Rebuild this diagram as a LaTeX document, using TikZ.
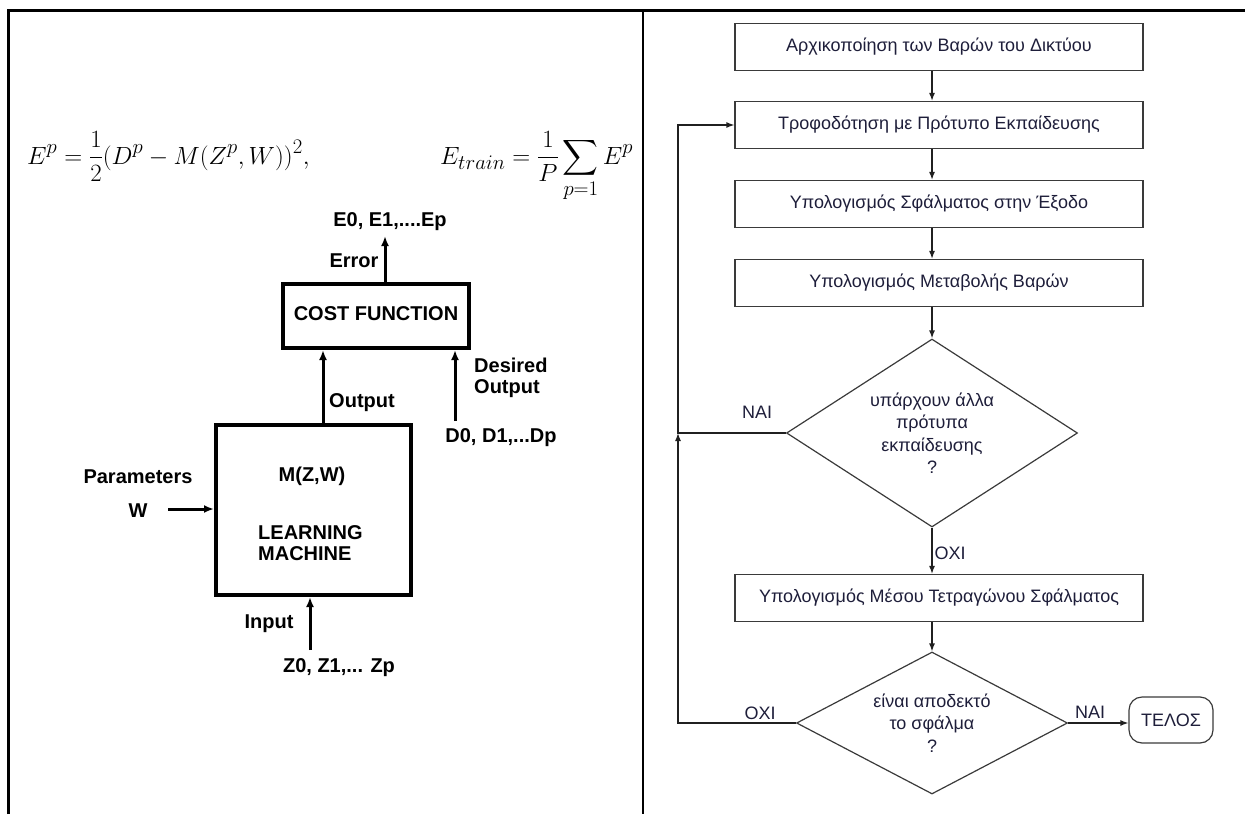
\documentclass[tikz,border=0pt]{standalone}
\usepackage{fontspec}
\usepackage{amsmath}
\usetikzlibrary{arrows.meta,shapes.geometric,calc}
\newfontfamily\hv{Liberation Sans}
\definecolor{boxgray}{HTML}{3A3A3A}
\definecolor{txtblue}{HTML}{1E1E3A}
\definecolor{linegray}{HTML}{202020}
\newcommand{\rtext}{\hv\fontsize{18}{22.5}\selectfont}
\newcommand{\ltxt}{\hv\bfseries\fontsize{20}{21}\selectfont}
\tikzset{
  frameline/.style={line width=2.2pt, black},
  lbox/.style={draw, line width=4pt, inner sep=0pt},
  ltext/.style={font=\ltxt, inner sep=0pt},
  eqtext/.style={anchor=base west, inner sep=0pt, font=\fontsize{28}{32}\selectfont},
  larrow/.style={line width=3pt, -{Latex[length=10pt,width=8pt]}},
  fbox/.style={draw=boxgray, line width=1.2pt, minimum width=408pt,
    minimum height=47pt, inner sep=0pt, font=\rtext, text=txtblue},
  fdiam/.style={draw=boxgray, line width=1.2pt, diamond, inner sep=0pt},
  dtext/.style={font=\rtext, text=txtblue, align=center, inner sep=0pt},
  fterm/.style={draw=boxgray, line width=1.2pt, rounded corners=13pt,
    minimum width=84pt, minimum height=46pt, inner sep=0pt,
    font=\rtext, text=txtblue},
  flab/.style={font=\rtext, text=txtblue, inner sep=0pt},
  fline/.style={line width=1.3pt, linegray},
  farrow/.style={fline, -{Latex[length=8pt,width=6pt]}},
}
\begin{document}
\begin{tikzpicture}[x=1pt,y=-1pt]
\useasboundingbox (0,0) rectangle (1245,814);

% outer frame and divider
\draw[frameline] (8.5,814) -- (8.5,10.5) -- (1245,10.5);
\draw[frameline] (643,10.5) -- (643,814);

% ---------- left panel: learning machine and cost function ----------
\node[eqtext] (eq1) at (27,164)
  {$\displaystyle E^p = \frac{1}{2}(D^p - M(Z^p,W))^2,$};
\node[eqtext] (eq2) at (440,164)
  {$\displaystyle E_{train} = \frac{1}{P}\sum_{p=1} E^p$};

\node[lbox, minimum width=186pt, minimum height=64pt] (cf) at (376,316) {};
\node[ltext] (cft) at (376,314) {COST FUNCTION};

\node[lbox, minimum width=195pt, minimum height=170pt] (lm) at (313.5,510) {};
\node[ltext] (mzw) at (312,476) {M(Z,W)};
\node[ltext, align=left, anchor=west] (lmt) at (258,543) {LEARNING\\MACHINE};

\coordinate (eout) at (385,236);
\coordinate (oxx) at (323,0);
\coordinate (dsrc) at (455,421);
\coordinate (zsrc) at (310,650);
\coordinate (wsrc) at (168,509);

\draw[larrow] (cf.north -| eout) -- (eout);
\draw[larrow] (lm.north -| oxx) -- (cf.south -| oxx);
\draw[larrow] (dsrc) -- (cf.south -| dsrc);
\draw[larrow] (zsrc) -- (lm.south -| zsrc);
\draw[larrow] (wsrc) -- (lm.west |- wsrc);

\node[ltext] (elist) at (390,222) {E0, E1,....Ep};
\node[ltext] (errl) at (354,261) {Error};
\node[ltext] (outl) at (362,403) {Output};
\node[ltext, align=left, anchor=west] (desl) at (474,378) {Desired\\Output};
\node[ltext] (dlist) at (501,438) {D0, D1,...Dp};
\node[ltext] (parl) at (138,477) {Parameters};
\node[ltext] (wl) at (138,511) {W};
\node[ltext] (inl) at (269,624) {Input};
\node[ltext] (zlist) at (339,668) {Z0, Z1,... Zp};

% ---------- right panel: training flowchart ----------
\coordinate (col) at (932,0);
\coordinate (loopx) at (678,0);

\node[fbox] (b1) at (939,47) {Αρχικοποίηση των Βαρών του Δικτύου};
\node[fbox] (b2) at (939,125) {Τροφοδότηση με Πρότυπο Εκπαίδευσης};
\node[fbox] (b3) at (939,204) {Υπολογισμός Σφάλματος στην Έξοδο};
\node[fbox] (b4) at (939,283) {Υπολογισμός Μεταβολής Βαρών};
\node[fdiam, minimum width=291pt, minimum height=188pt] (d1) at (932,433) {};
\node[dtext] (d1t) at (d1.center) {υπάρχουν άλλα\\πρότυπα\\εκπαίδευσης\\?};
\node[fbox] (b5) at (939,598) {Υπολογισμός Μέσου Τετραγώνου Σφάλματος};
\node[fdiam, minimum width=271pt, minimum height=142pt] (d2) at (932,723) {};
\node[dtext] (d2t) at (d2.center) {είναι αποδεκτό\\το σφάλμα\\?};
\node[fterm] (fin) at (1171,720) {ΤΕΛΟΣ};

\draw[farrow] (b1.south -| col) -- (b2.north -| col);
\draw[farrow] (b2.south -| col) -- (b3.north -| col);
\draw[farrow] (b3.south -| col) -- (b4.north -| col);
\draw[farrow] (b4.south -| col) -- (d1.north);
\draw[farrow] (d1.south) -- (b5.north -| col);
\draw[farrow] (b5.south -| col) -- (d2.north);
\draw[farrow] (d2.east) -- (fin.west |- d2.east);
\draw[farrow] (d2.west) -| (d1.west -| loopx);
\draw[farrow] (d1.west) -- (d1.west -| loopx) |- (b2.west);

\node[flab] (nai1) at (757,412) {ΝΑΙ};
\node[flab] (oxi1) at (950,553) {ΟΧΙ};
\node[flab] (oxi2) at (760,713) {ΟΧΙ};
\node[flab] (nai2) at (1090,712) {ΝΑΙ};
\end{tikzpicture}
\end{document}
